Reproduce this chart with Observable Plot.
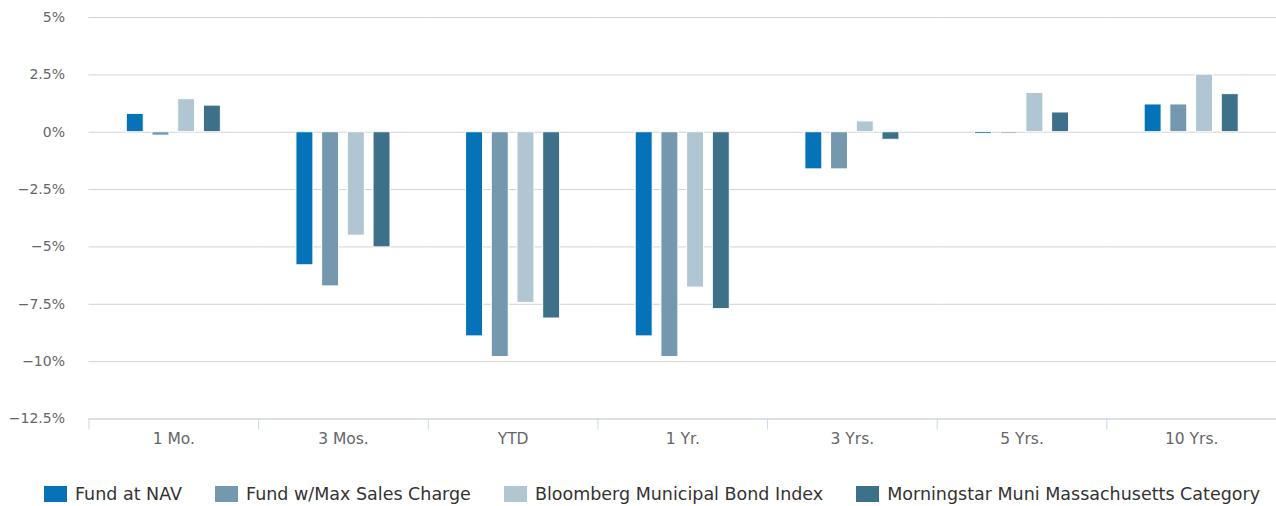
<!DOCTYPE html>
<html>
<head>
<meta charset="utf-8">
<script src="https://cdn.jsdelivr.net/npm/d3@7"></script>
<script src="https://cdn.jsdelivr.net/npm/@observablehq/plot@0.6"></script>
<style>
  html, body { margin: 0; padding: 0; background: #fff; }
  #chart svg { display: block; }
  #legend { display: flex; align-items: flex-start; height: 46px; padding-left: 44px; padding-top: 26px; box-sizing: border-box;
            font-family: "DejaVu Sans", sans-serif; font-size: 17.5px; color: #333; white-space: nowrap; }
  .item { display: flex; align-items: center; margin-right: 33px; height: 16px; line-height: 16px; }
  .sw { width: 23px; height: 16px; margin-right: 8px; flex: none; }
</style>
</head>
<body>
<div id="chart"></div>
<div id="legend"></div>
<script>
const periods = ["1 Mo.", "3 Mos.", "YTD", "1 Yr.", "3 Yrs.", "5 Yrs.", "10 Yrs."];
const seriesNames = ["Fund at NAV", "Fund w/Max Sales Charge", "Bloomberg Municipal Bond Index", "Morningstar Muni Massachusetts Category"];
const fundAtNav = [0.80, -5.80, -8.90, -8.90, -1.62, -0.08, 1.21];
const fundMaxCharge = [-0.15, -6.72, -9.80, -9.80, -1.62, -0.07, 1.21];
const bloombergIndex = [1.44, -4.51, -7.44, -6.77, 0.47, 1.71, 2.51];
const morningstarCategory = [1.16, -5.02, -8.12, -7.71, -0.33, 0.86, 1.66];
const colors = ["#0673b8", "#7499ae", "#b0c7d3", "#3d7189"];
const yTicks = [5, 2.5, 0, -2.5, -5, -7.5, -10, -12.5];

const seriesValues = [fundAtNav, fundMaxCharge, bloombergIndex, morningstarCategory];
const data = [];
periods.forEach((p, i) => {
  seriesNames.forEach((s, j) => data.push({period: p, series: s, value: seriesValues[j][i]}));
});

const W = 1276, mL = 88.5, mR = 0;
const fw = (W - mL - mR) / periods.length;
const fmt = d => (d < 0 ? "\u2212" : "") + Math.abs(d) + "%";

const chart = Plot.plot({
  width: W,
  height: 460,
  marginLeft: mL,
  marginRight: mR,
  marginTop: 17,
  marginBottom: 41.5,
  style: {fontFamily: "DejaVu Sans, sans-serif", fontSize: "14px", background: "#fff"},
  fx: {domain: periods, padding: 0, round: false, label: null},
  x: {domain: seriesNames, paddingInner: 0.34, paddingOuter: 1.47, round: false, axis: null, label: null},
  y: {domain: [-12.5, 5], label: null},
  color: {domain: seriesNames, range: colors},
  marks: [
    Plot.gridY(yTicks, {stroke: "#d3d3d3", strokeOpacity: 1}),
    Plot.ruleY([-12.5], {stroke: "#ccd6eb", strokeWidth: 1}),
    Plot.barY(data, {fx: "period", x: "series", y: "value", fill: "series", stroke: "#fff", strokeWidth: 1}),
    Plot.axisY(yTicks, {tickFormat: fmt, tickSize: 0, tickPadding: 24, fill: "#666", fontSize: 14, label: null}),
    Plot.axisFx({anchor: "bottom", tickSize: 0, tickPadding: 14, fill: "#666", fontSize: 15.5, label: null}),
    Plot.axisFx({anchor: "bottom", tickSize: 11, tickFormat: () => "", dx: -fw / 2, stroke: "#ccd6eb", label: null})
  ]
});
document.getElementById("chart").appendChild(chart);

const legend = document.getElementById("legend");
seriesNames.forEach((s, i) => {
  const it = document.createElement("div");
  it.className = "item";
  const sw = document.createElement("div");
  sw.className = "sw";
  sw.style.background = colors[i];
  const t = document.createElement("span");
  t.textContent = s;
  it.appendChild(sw);
  it.appendChild(t);
  legend.appendChild(it);
});
</script>
</body>
</html>
